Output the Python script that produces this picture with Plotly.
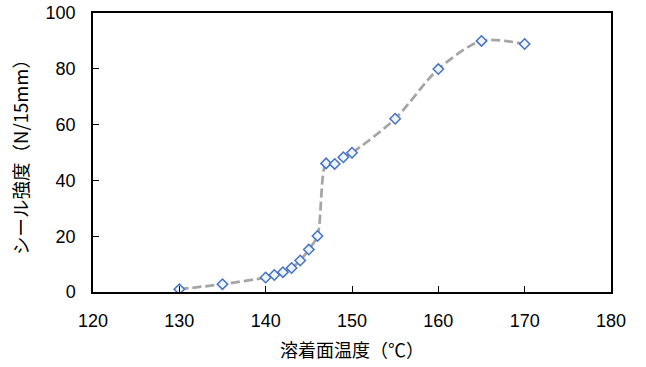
import plotly.graph_objects as go

temps = [130, 135, 140, 141, 142, 143, 144, 145, 146, 147, 148, 149, 150, 155, 160, 165, 170]
strength = [1.0, 2.8, 5.2, 6.1, 7.1, 8.6, 11.3, 15.2, 20.1, 46.1, 45.9, 48.3, 49.9, 62.1, 79.9, 90.0, 88.9]

x_ticks = [120, 130, 140, 150, 160, 170, 180]
y_ticks = [0, 20, 40, 60, 80, 100]

x_title = "溶着面温度（℃）"
y_title = "シール強度（N/15mm）"

num_font = "Liberation Sans, Arial, sans-serif"
jp_font = "Noto Sans CJK JP"

fig = go.Figure()
fig.add_trace(go.Scatter(
    x=temps, y=strength, mode="lines+markers",
    line=dict(color="#A5A5A5", width=2.75, dash="9px,4px", shape="spline", smoothing=0.8),
    marker=dict(symbol="diamond", size=8, color="#eef3fa",
                line=dict(color="#4472C4", width=1.5)),
    showlegend=False,
))

fig.update_layout(
    width=646, height=367,
    margin=dict(l=93, r=35, t=13, b=75),
    paper_bgcolor="white", plot_bgcolor="white",
)
fig.update_xaxes(
    range=[120, 180], tickvals=x_ticks, ticktext=[str(v) for v in x_ticks],
    showgrid=False, zeroline=False, automargin=False,
    showline=True, linecolor="black", linewidth=1.5, mirror=True,
    ticks="inside", ticklen=6, tickcolor="black", tickwidth=1,
    tickfont=dict(family=num_font, size=18, color="black"),
    ticklabelstandoff=12,
    title=dict(text=x_title, font=dict(family=jp_font, size=18, color="black"), standoff=14),
)
fig.update_yaxes(
    range=[0, 100], tickvals=y_ticks, ticktext=[str(v) for v in y_ticks],
    showgrid=False, zeroline=False, automargin=False,
    showline=True, linecolor="black", linewidth=1.5, mirror=True,
    ticks="inside", ticklen=6, tickcolor="black", tickwidth=1,
    tickfont=dict(family=num_font, size=18, color="black"),
    ticklabelstandoff=12,
    title=dict(text=y_title, font=dict(family=jp_font, size=18.5, color="black"), standoff=12),
)

fig.write_html("out.html")
